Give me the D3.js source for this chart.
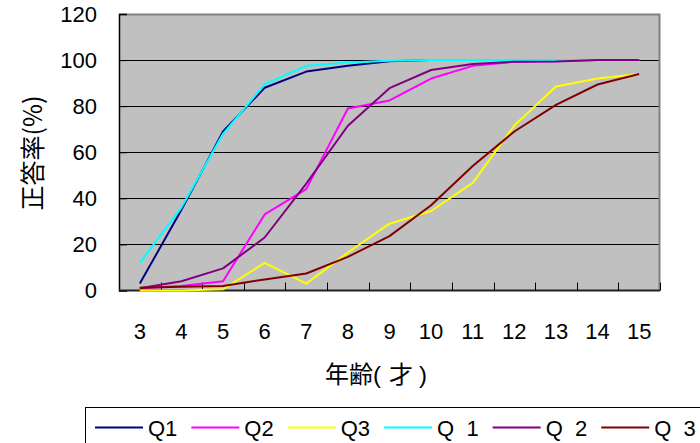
<!DOCTYPE html>
<html>
<head>
<meta charset="utf-8">
<script src="https://cdn.jsdelivr.net/npm/d3@7/dist/d3.min.js"></script>
<style>
  html, body { margin: 0; padding: 0; background: #fff; }
  svg { display: block; font-family: "Liberation Sans", Arial, sans-serif; }
</style>
</head>
<body>
<svg id="chart" width="700" height="443"></svg>
<script>
// Ages on the category axis
const ages = ["3", "4", "5", "6", "7", "8", "9", "10", "11", "12", "13", "14", "15"];
const yTicks = [0, 20, 40, 60, 80, 100, 120];

// Correct-answer rate (%) per age, for each question
const seriesNames = ["Q1", "Q2", "Q3", "Q  1", "Q  2", "Q  3"];
const q1  = [3, 35, 69, 88, 95, 97.5, 99.5, 100, 100, 100, 100, 100, 100];
const q2  = [1, 2, 4, 33, 44, 79, 82.5, 92, 97.5, 99.3, 99.5, 100, 100];
const q3  = [0, 0, 0.5, 12, 3, 16.5, 29, 34.5, 46.7, 71.6, 88.5, 92, 94];
const qq1 = [12, 36, 68, 89.5, 97.5, 99, 99.7, 100, 100, 100, 100, 100, 100];
const qq2 = [1, 4, 9.6, 23, 46.4, 71.5, 87.8, 95.7, 98.3, 99.3, 99.4, 100, 100];
const qq3 = [1.2, 1.6, 2, 4.8, 7.4, 14.6, 23.6, 37, 54, 69, 80.6, 89.4, 94];
const seriesValues = [q1, q2, q3, qq1, qq2, qq3];
const seriesColors = ["#000080", "#ff00ff", "#ffff00", "#00ffff", "#800080", "#800000"];

const svg = d3.select("#chart");
const plot = { left: 119, top: 14, right: 660, bottom: 290.5 };

const x = d3.scaleBand().domain(ages).range([plot.left, plot.right]).padding(0);
const y = d3.scaleLinear().domain([0, 120]).range([plot.bottom, plot.top]);

// Plot background
svg.append("rect")
  .attr("x", plot.left).attr("y", plot.top)
  .attr("width", plot.right - plot.left).attr("height", plot.bottom - plot.top)
  .attr("fill", "#c0c0c0");

// Horizontal gridlines
svg.append("g").selectAll("line")
  .data(yTicks.filter(d => d > 0 && d < 120))
  .join("line")
  .attr("x1", plot.left).attr("x2", plot.right)
  .attr("y1", d => Math.round(y(d)) + 0.5).attr("y2", d => Math.round(y(d)) + 0.5)
  .attr("stroke", "#000").attr("stroke-width", 1);

// Outer frame (top and right)
svg.append("path")
  .attr("d", `M${plot.left},${plot.top + 0.5}H${plot.right - 0.5}V${plot.bottom}`)
  .attr("fill", "none").attr("stroke", "#808080").attr("stroke-width", 2);

// Y axis
const yAxis = d3.axisLeft(y).tickValues(yTicks).tickSize(-8).tickPadding(22).tickFormat(d3.format("d"));
const gy = svg.append("g").attr("transform", `translate(${plot.left},0)`).call(yAxis);
gy.select(".domain").attr("stroke", "#000").attr("stroke-width", 1.5);
gy.selectAll(".tick line").attr("stroke", "#000");
gy.selectAll(".tick text").attr("font-size", 22).attr("fill", "#000")
  .attr("font-family", "'Liberation Sans', Arial, sans-serif");

// X axis: ticks sit on category boundaries, labels at category centres
const gx = svg.append("g").attr("transform", `translate(0,${plot.bottom})`);
gx.append("line")
  .attr("x1", plot.left).attr("x2", plot.right)
  .attr("stroke", "#222").attr("stroke-width", 2);
gx.selectAll("line.tick")
  .data(ages.slice(1).concat(["end"]))
  .join("line").attr("class", "tick")
  .attr("x1", (d, i) => Math.round(x(ages[i]) + x.bandwidth()) + 0.5)
  .attr("x2", (d, i) => Math.round(x(ages[i]) + x.bandwidth()) + 0.5)
  .attr("y1", 0).attr("y2", -8)
  .attr("stroke", "#000");
gx.selectAll("text")
  .data(ages)
  .join("text")
  .attr("x", d => x(d) + x.bandwidth() / 2)
  .attr("y", 48)
  .attr("text-anchor", "middle")
  .attr("font-size", 22)
  .attr("fill", "#000")
  .text(d => d);

// Axis titles
const xTitle = svg.append("text")
  .attr("x", 376).attr("y", 383)
  .attr("text-anchor", "middle")
  .attr("font-size", 24)
  .attr("font-family", "'Noto Sans CJK JP', sans-serif");
xTitle.append("tspan").text("年齢");
xTitle.append("tspan").attr("font-family", "'Liberation Sans', Arial, sans-serif").text("(");
xTitle.append("tspan").attr("dx", 8).text("才");
xTitle.append("tspan").attr("dx", 6).attr("font-family", "'Liberation Sans', Arial, sans-serif").text(")");

svg.append("text")
  .attr("transform", "translate(42,153) rotate(-90)")
  .attr("text-anchor", "middle")
  .attr("font-size", 25)
  .attr("font-family", "'Noto Sans CJK JP', sans-serif")
  .text("正答率(%)");

// Series lines
const line = d3.line()
  .x((d, i) => x(ages[i]) + x.bandwidth() / 2)
  .y(d => y(d));
svg.append("g").selectAll("path")
  .data(seriesValues)
  .join("path")
  .attr("d", d => line(d))
  .attr("fill", "none")
  .attr("stroke", (d, i) => seriesColors[i])
  .attr("stroke-width", 2)
  .attr("stroke-linejoin", "round");

// Legend
const legend = svg.append("g");
legend.append("rect")
  .attr("x", 85.5).attr("y", 407.5)
  .attr("width", 640).attr("height", 60)
  .attr("fill", "#fff").attr("stroke", "#000").attr("stroke-width", 1);
let lx = 95;
seriesNames.forEach((name, i) => {
  legend.append("line")
    .attr("x1", lx).attr("x2", lx + 48)
    .attr("y1", 427.5).attr("y2", 427.5)
    .attr("stroke", seriesColors[i]).attr("stroke-width", 2);
  const t = legend.append("text")
    .attr("x", lx + 53).attr("y", 436)
    .attr("font-size", 22)
    .attr("fill", "#000")
    .style("white-space", "pre")
    .attr("xml:space", "preserve")
    .text(name);
  lx = lx + 53 + t.node().getComputedTextLength() + 14;
});
</script>
</body>
</html>
